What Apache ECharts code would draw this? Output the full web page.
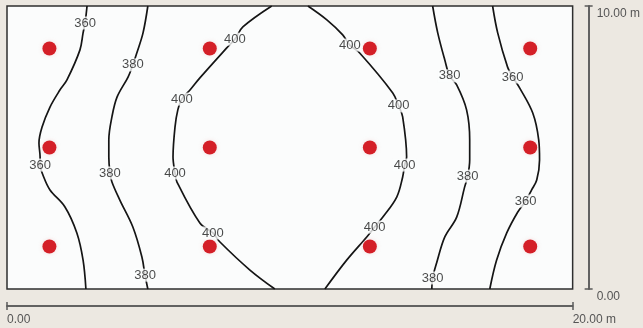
<!DOCTYPE html>
<html>
<head>
<meta charset="utf-8">
<script src="https://cdn.jsdelivr.net/npm/echarts@6/dist/echarts.min.js"></script>
<style>
html,body{margin:0;padding:0;background:#ece8e1;}
#c{width:643px;height:328px;}
</style>
</head>
<body>
<div id="c"></div>
<script>
// Axis tick labels
const xTickLabels = ['0.00', '20.00 m'];
const yTickLabels = ['0.00', '10.00 m'];

// Luminaire positions (m)
const lumX = [1.5, 7.17, 12.83, 18.5];
const lumY = [1.5, 5.0, 8.5];

// Contour lines (x m, y m)
const c360Left = [[2.83,10.0],[2.76,9.40],[2.69,9.05],[2.58,8.45],[2.12,7.39],[1.87,7.03],[1.52,6.43],[1.24,5.72],[1.13,5.16],[1.17,4.66],[1.17,4.38],[1.27,4.03],[1.52,3.50],[2.05,2.90],[2.47,1.98],[2.69,1.02],[2.79,0]];
const c380Left = [[4.98,10.0],[4.81,9.05],[4.59,8.34],[4.45,7.92],[4.28,7.49],[3.89,6.78],[3.71,6.08],[3.60,5.27],[3.60,4.66],[3.64,4.10],[3.71,3.78],[3.99,3.14],[4.45,2.19],[4.77,1.13],[4.88,0.49],[4.95,0.14],[4.98,0]];
const c400Left = [[9.47,0],[8.59,0.67],[7.53,1.66],[7.28,1.98],[6.82,2.33],[6.01,3.78],[5.94,4.10],[5.87,4.66],[5.94,5.72],[6.04,6.33],[6.18,6.71],[6.47,7.03],[6.82,7.46],[7.77,8.52],[8.06,8.83],[8.34,9.26],[9.36,10.0]];
const c400Right = [[10.64,10.0],[11.31,9.51],[11.87,8.98],[12.12,8.62],[12.47,8.34],[13.64,6.93],[13.85,6.47],[13.99,6.08],[14.13,4.66],[14.06,4.38],[13.99,3.96],[13.78,3.25],[13.29,2.54],[13.00,2.19],[12.72,1.84],[12.01,1.02],[11.24,0]];
const c380Right = [[15.05,10.0],[15.23,9.05],[15.48,8.09],[15.65,7.53],[15.90,7.21],[16.25,6.33],[16.36,5.27],[16.36,4.56],[16.29,3.99],[16.18,3.60],[15.90,2.54],[15.48,1.84],[15.19,0.92],[15.05,0.39],[15.02,0]];
const c360Right = [[17.17,10.0],[17.35,9.05],[17.70,7.84],[17.88,7.49],[18.13,7.10],[18.59,6.22],[18.80,5.27],[18.83,4.56],[18.73,3.85],[18.55,3.50],[18.34,3.11],[18.06,2.72],[17.67,1.98],[17.31,1.02],[17.07,0]];

// Contour labels (x m, y m, value)
const contourLabels = [
  [2.76,9.40,360],[1.17,4.38,360],
  [4.45,7.92,380],[3.64,4.10,380],[4.88,0.49,380],
  [7.28,1.98,400],[5.94,4.10,400],[6.18,6.71,400],[8.06,8.83,400],
  [12.12,8.62,400],[13.85,6.47,400],[14.06,4.38,400],[13.00,2.19,400],
  [15.65,7.53,380],[16.29,3.99,380],[15.05,0.39,380],
  [17.88,7.49,360],[18.34,3.11,360]
];

const lumData = [];
lumY.forEach(y => lumX.forEach(x => lumData.push([x, y])));

const contours = [c360Left, c380Left, c400Left, c400Right, c380Right, c360Right];
const plotBg = '#fbfcfc';
const font = 'Liberation Sans, Arial, sans-serif';

const chart = echarts.init(document.getElementById('c'), null, {renderer:'canvas'});
const axisLineStyle = {color:'#5a5a5a', width:1.5};
const xAxisBase = {type:'value', min:0, max:20, interval:20, position:'bottom', offset:17, splitLine:{show:false}, axisLine:{onZero:false, lineStyle:axisLineStyle}};
const yAxisBase = {type:'value', min:0, max:10, interval:10, position:'right', offset:16, splitLine:{show:false}, axisLine:{onZero:false, lineStyle:axisLineStyle}};

const series = [];
contours.forEach(c => series.push({
  type:'line', data:c, smooth:0.35, symbol:'none', xAxisIndex:0, yAxisIndex:0,
  lineStyle:{color:'#151515', width:1.7}, z:3, silent:true
}));
series.push({
  type:'scatter', data:lumData, symbolSize:14, xAxisIndex:0, yAxisIndex:0,
  itemStyle:{color:'#d41f27', opacity:1, shadowColor:'rgba(235,160,160,0.35)', shadowBlur:4}, z:4
});
series.push({
  type:'scatter', data:contourLabels, symbolSize:0, xAxisIndex:0, yAxisIndex:0, z:5,
  label:{show:true, position:'inside', formatter:p => String(p.value[2]), color:'#1c1c1c', fontSize:13,
    fontFamily:font, backgroundColor:plotBg, padding:[0,1,0,1]}
});

chart.setOption({
  animation:false,
  backgroundColor:'#ece8e1',
  grid:{left:7, top:6, width:566, height:283, show:true, borderColor:'#2e2e2e', borderWidth:1.5, backgroundColor:plotBg},
  xAxis:[
    Object.assign({}, xAxisBase, {
      axisTick:{show:true, length:4, lineStyle:axisLineStyle},
      axisLabel:{show:true, margin:8, align:'left', color:'#555', fontSize:12, fontFamily:font,
        formatter:v => v === 0 ? xTickLabels[0] : xTickLabels[1]}
    }),
    Object.assign({}, xAxisBase, {
      axisTick:{show:true, inside:true, length:4, lineStyle:axisLineStyle},
      axisLabel:{show:false}
    })
  ],
  yAxis:[
    Object.assign({}, yAxisBase, {
      axisTick:{show:true, length:4, lineStyle:axisLineStyle},
      axisLabel:{show:true, margin:8, verticalAlign:'top', padding:[2,0,0,0], color:'#555', fontSize:12, fontFamily:font,
        formatter:v => v === 0 ? yTickLabels[0] : yTickLabels[1]}
    }),
    Object.assign({}, yAxisBase, {
      axisTick:{show:true, inside:true, length:4, lineStyle:axisLineStyle},
      axisLabel:{show:false}
    })
  ],
  series:series
});
</script>
</body>
</html>
